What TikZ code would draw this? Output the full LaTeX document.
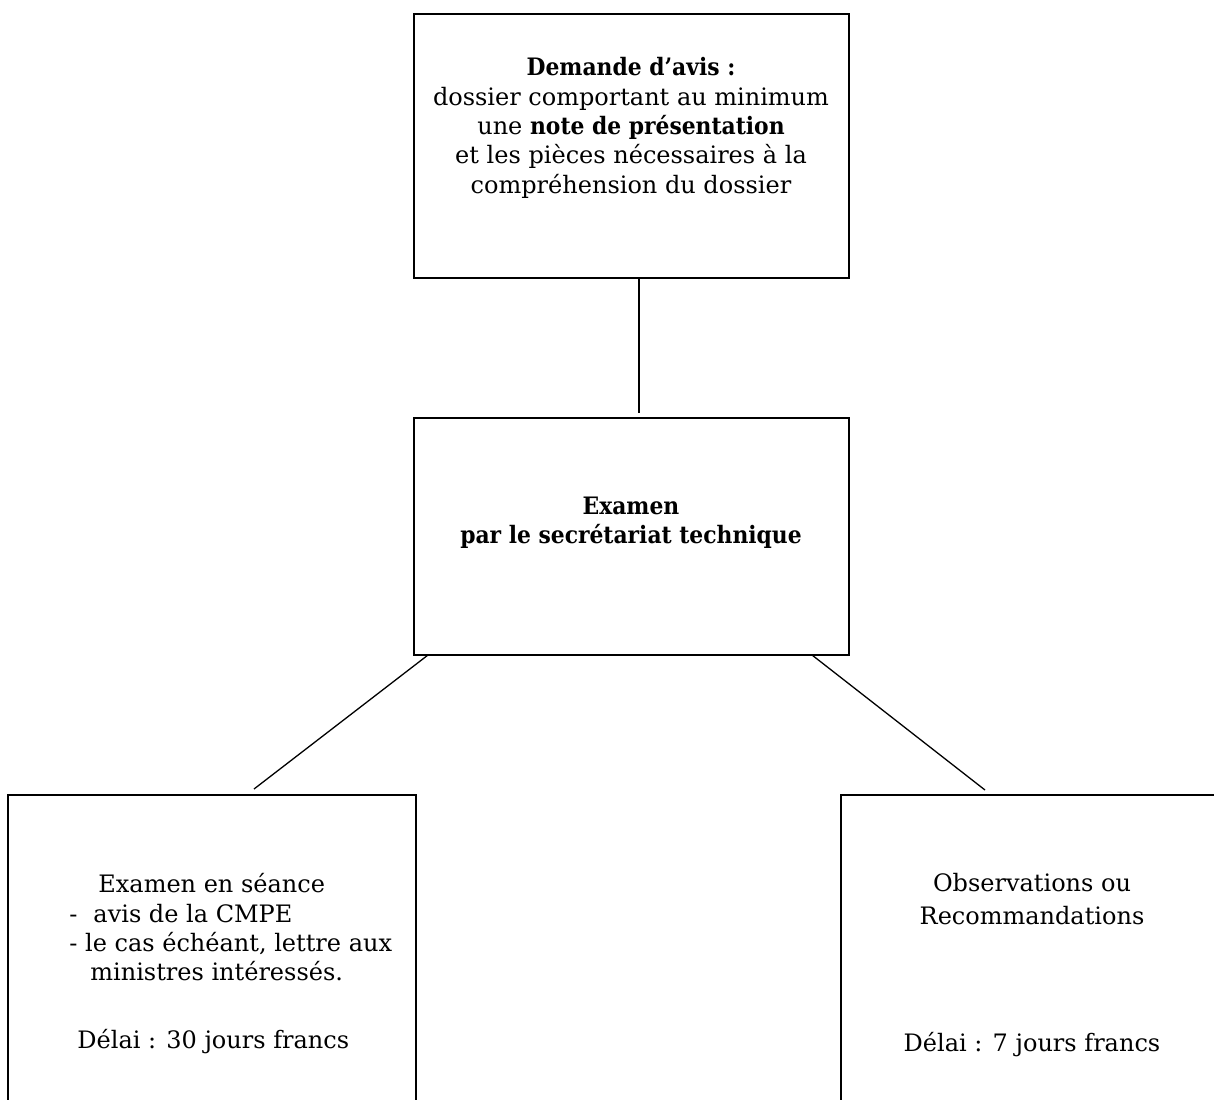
\documentclass[tikz,border=0pt]{standalone}
\usepackage{fontspec}
\setmainfont{DejaVu Serif}[BoldFeatures={FakeStretch=0.91}]
\usetikzlibrary{calc}

\begin{document}
\begin{tikzpicture}[x=0.5pt, y=-0.5pt,
		cadre/.style={draw, line width=1pt, inner sep=0pt, outer sep=0pt},
		texte/.style={inner sep=0pt, font=\fontsize{12}{14.7}\selectfont},
		lien/.style={line width=0.65pt}]
		%%%%% START %%%%%
		
		\useasboundingbox (0, 0) rectangle (1214, 1099);
		\clip (0, 0) rectangle (1214, 1099);
		
		\node[cadre, minimum width=217.5pt, minimum height=132pt] (demande) at (631.5, 146) {};
		\node[cadre, minimum width=217.5pt, minimum height=118.5pt] (examen) at (631.5, 536.5) {};
		\node[cadre, minimum width=204pt, minimum height=160pt] (seance) at (212, 955) {};
		\node[cadre, minimum width=204pt, minimum height=160pt] (observ) at (1045, 955) {};
		
		\node[texte, align=center, anchor=north] (tdemande) at (631, 57)
			{\textbf{Demande d'avis :}\\dossier comportant au minimum\\une \textbf{note de présentation}\\et les pièces nécessaires à la\\compréhension du dossier};
		\node[texte, align=center, anchor=north, font=\fontsize{12}{14.4}\selectfont\bfseries] (texamen) at (631, 497)
			{Examen\\par le secrétariat technique};
		\node[texte, align=left, anchor=north west] (tseance) at (69, 873)
			{\hspace*{14.5pt}Examen en séance\\-\hspace{8pt}avis de la CMPE\\- le cas échéant, lettre aux\\\hspace*{10.5pt}ministres intéressés.\\[19.3pt]\hspace*{4pt}Délai : 30 jours francs};
		\node[texte, align=center, anchor=north] (tobserv) at (1032, 873)
			{Observations ou\\[1.8pt]Recommandations\\[48.8pt]Délai : 7 jours francs};
		
		\draw[lien] ([xshift=3.75pt]demande.south) -- ([xshift=3.75pt, yshift=2.5pt]examen.north);
		\draw[lien] ([xshift=7pt]examen.south west) -- ([xshift=21pt, yshift=3pt]seance.north);
		\draw[lien] ([xshift=-18.5pt]examen.south east) -- ([xshift=-30pt, yshift=2.5pt]observ.north);
		
		%%%%% END %%%%%
	\end{tikzpicture}
\end{document}
